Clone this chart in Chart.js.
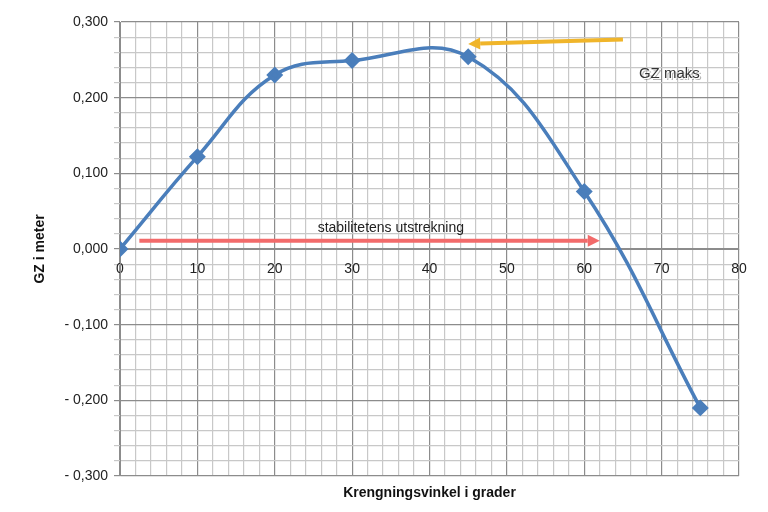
<!DOCTYPE html>
<html>
<head>
<meta charset="utf-8">
<script src="https://cdn.jsdelivr.net/npm/chart.js@4"></script>
<style>
  html, body { margin: 0; padding: 0; background: #fff; }
  canvas { display: block; }
</style>
</head>
<body>
<canvas id="gzChart" width="768" height="512"></canvas>
<script>
const angles = [0, 10, 20, 30, 45, 60, 75];
const gzValues = [0.0, 0.122, 0.230, 0.249, 0.254, 0.076, -0.210];
const xTitle = "Krengningsvinkel i grader";
const yTitle = "GZ i meter";

// annotation arrows in data coordinates
const rangeArrow = { from: [2.5, 0.011], to: [62, 0.011], label: "stabilitetens utstrekning", labelAt: [35, 0.028] };
const maxArrow = { from: [65, 0.277], to: [45, 0.271], label: "GZ maks", labelAt: [71, 0.232] };

const isMajor = (v, step) => Math.abs(v / step - Math.round(v / step)) < 1e-6;
const fmtY = (v) => {
  const s = Math.abs(v).toFixed(3).replace(".", ",");
  return v < -1e-9 ? "- " + s : s;
};
const FONT = "'Liberation Sans', Arial, sans-serif";

function drawArrow(ctx, x1, y1, x2, y2, color) {
  const ang = Math.atan2(y2 - y1, x2 - x1);
  const head = 12;
  ctx.save();
  ctx.strokeStyle = color;
  ctx.fillStyle = color;
  ctx.lineWidth = 4;
  ctx.beginPath();
  ctx.moveTo(x1, y1);
  ctx.lineTo(x2 - Math.cos(ang) * head, y2 - Math.sin(ang) * head);
  ctx.stroke();
  ctx.beginPath();
  ctx.moveTo(x2, y2);
  ctx.lineTo(x2 - Math.cos(ang) * head - Math.sin(ang) * 6, y2 - Math.sin(ang) * head + Math.cos(ang) * 6);
  ctx.lineTo(x2 - Math.cos(ang) * head + Math.sin(ang) * 6, y2 - Math.sin(ang) * head - Math.cos(ang) * 6);
  ctx.closePath();
  ctx.fill();
  ctx.restore();
}

const annotations = {
  id: "annotations",
  afterDatasetsDraw(chart) {
    const { ctx, scales, chartArea } = chart;
    const px = (p) => [scales.x.getPixelForValue(p[0]), scales.y.getPixelForValue(p[1])];
    let a = px(rangeArrow.from), b = px(rangeArrow.to);
    drawArrow(ctx, a[0], a[1], b[0], b[1], "#f26b6b");
    a = px(maxArrow.from); b = px(maxArrow.to);
    drawArrow(ctx, a[0], a[1], b[0], b[1], "#f0b52a");
    ctx.save();
    ctx.textAlign = "center";
    ctx.textBaseline = "middle";
    ctx.font = "14px " + FONT;
    let t = px(rangeArrow.labelAt);
    ctx.fillStyle = "#222";
    ctx.fillText(rangeArrow.label, t[0], t[1]);
    ctx.font = "15px " + FONT;
    t = px(maxArrow.labelAt);
    ctx.fillStyle = "rgba(0,0,0,0.3)";
    ctx.fillText(maxArrow.label, t[0] + 2, t[1] + 2);
    ctx.fillStyle = "#fff";
    ctx.fillText(maxArrow.label, t[0] + 1, t[1] + 1);
    ctx.fillStyle = "#333";
    ctx.fillText(maxArrow.label, t[0], t[1]);
    // x axis title at bottom of figure
    ctx.font = "bold 14px " + FONT;
    ctx.fillStyle = "#111";
    ctx.fillText(xTitle, (chartArea.left + chartArea.right) / 2, 493);
    ctx.restore();
  },
};

new Chart(document.getElementById("gzChart"), {
  type: "line",
  data: {
    datasets: [{
      data: angles.map((a, i) => ({ x: a, y: gzValues[i] })),
      borderColor: "#4a7ebb",
      backgroundColor: "#4a7ebb",
      borderWidth: 3.5,
      tension: 0.4,
      pointStyle: "rectRot",
      pointRadius: 6,
      pointHoverRadius: 6,
    }],
  },
  options: {
    responsive: false,
    animation: false,
    layout: { padding: { top: 22, right: 29, left: 28, bottom: 36 } },
    plugins: { legend: { display: false }, tooltip: { enabled: false } },
    scales: {
      x: {
        type: "linear",
        position: { y: 0 },
        min: 0, max: 80,
        ticks: {
          stepSize: 2, autoSkip: false, maxRotation: 0, padding: 12,
          color: "#222", font: { size: 14, family: FONT },
          callback: (v) => (isMajor(v, 10) ? String(v) : ""),
        },
        grid: {
          color: (c) => (isMajor(c.tick.value, 10) ? "#8c8c8c" : "#c8c8c8"),
          lineWidth: 1.2, drawTicks: false,
        },
        border: { color: "#8c8c8c" },
      },
      y: {
        min: -0.3, max: 0.3,
        ticks: {
          stepSize: 0.02, autoSkip: false, padding: 6,
          color: "#222", font: { size: 14, family: FONT },
          callback: (v) => (isMajor(v, 0.1) ? fmtY(v) : ""),
        },
        grid: {
          color: (c) => (isMajor(c.tick.value, 0.1) ? "#8c8c8c" : "#c8c8c8"),
          lineWidth: 1.2, drawTicks: true, tickLength: 6,
        },
        border: { color: "#8c8c8c" },
        title: { display: true, text: yTitle, color: "#111",
          font: { size: 14, weight: "bold", family: FONT } },
        afterFit: (s) => { s.width = 92; },
      },
    },
  },
  plugins: [annotations],
});
</script>
</body>
</html>
